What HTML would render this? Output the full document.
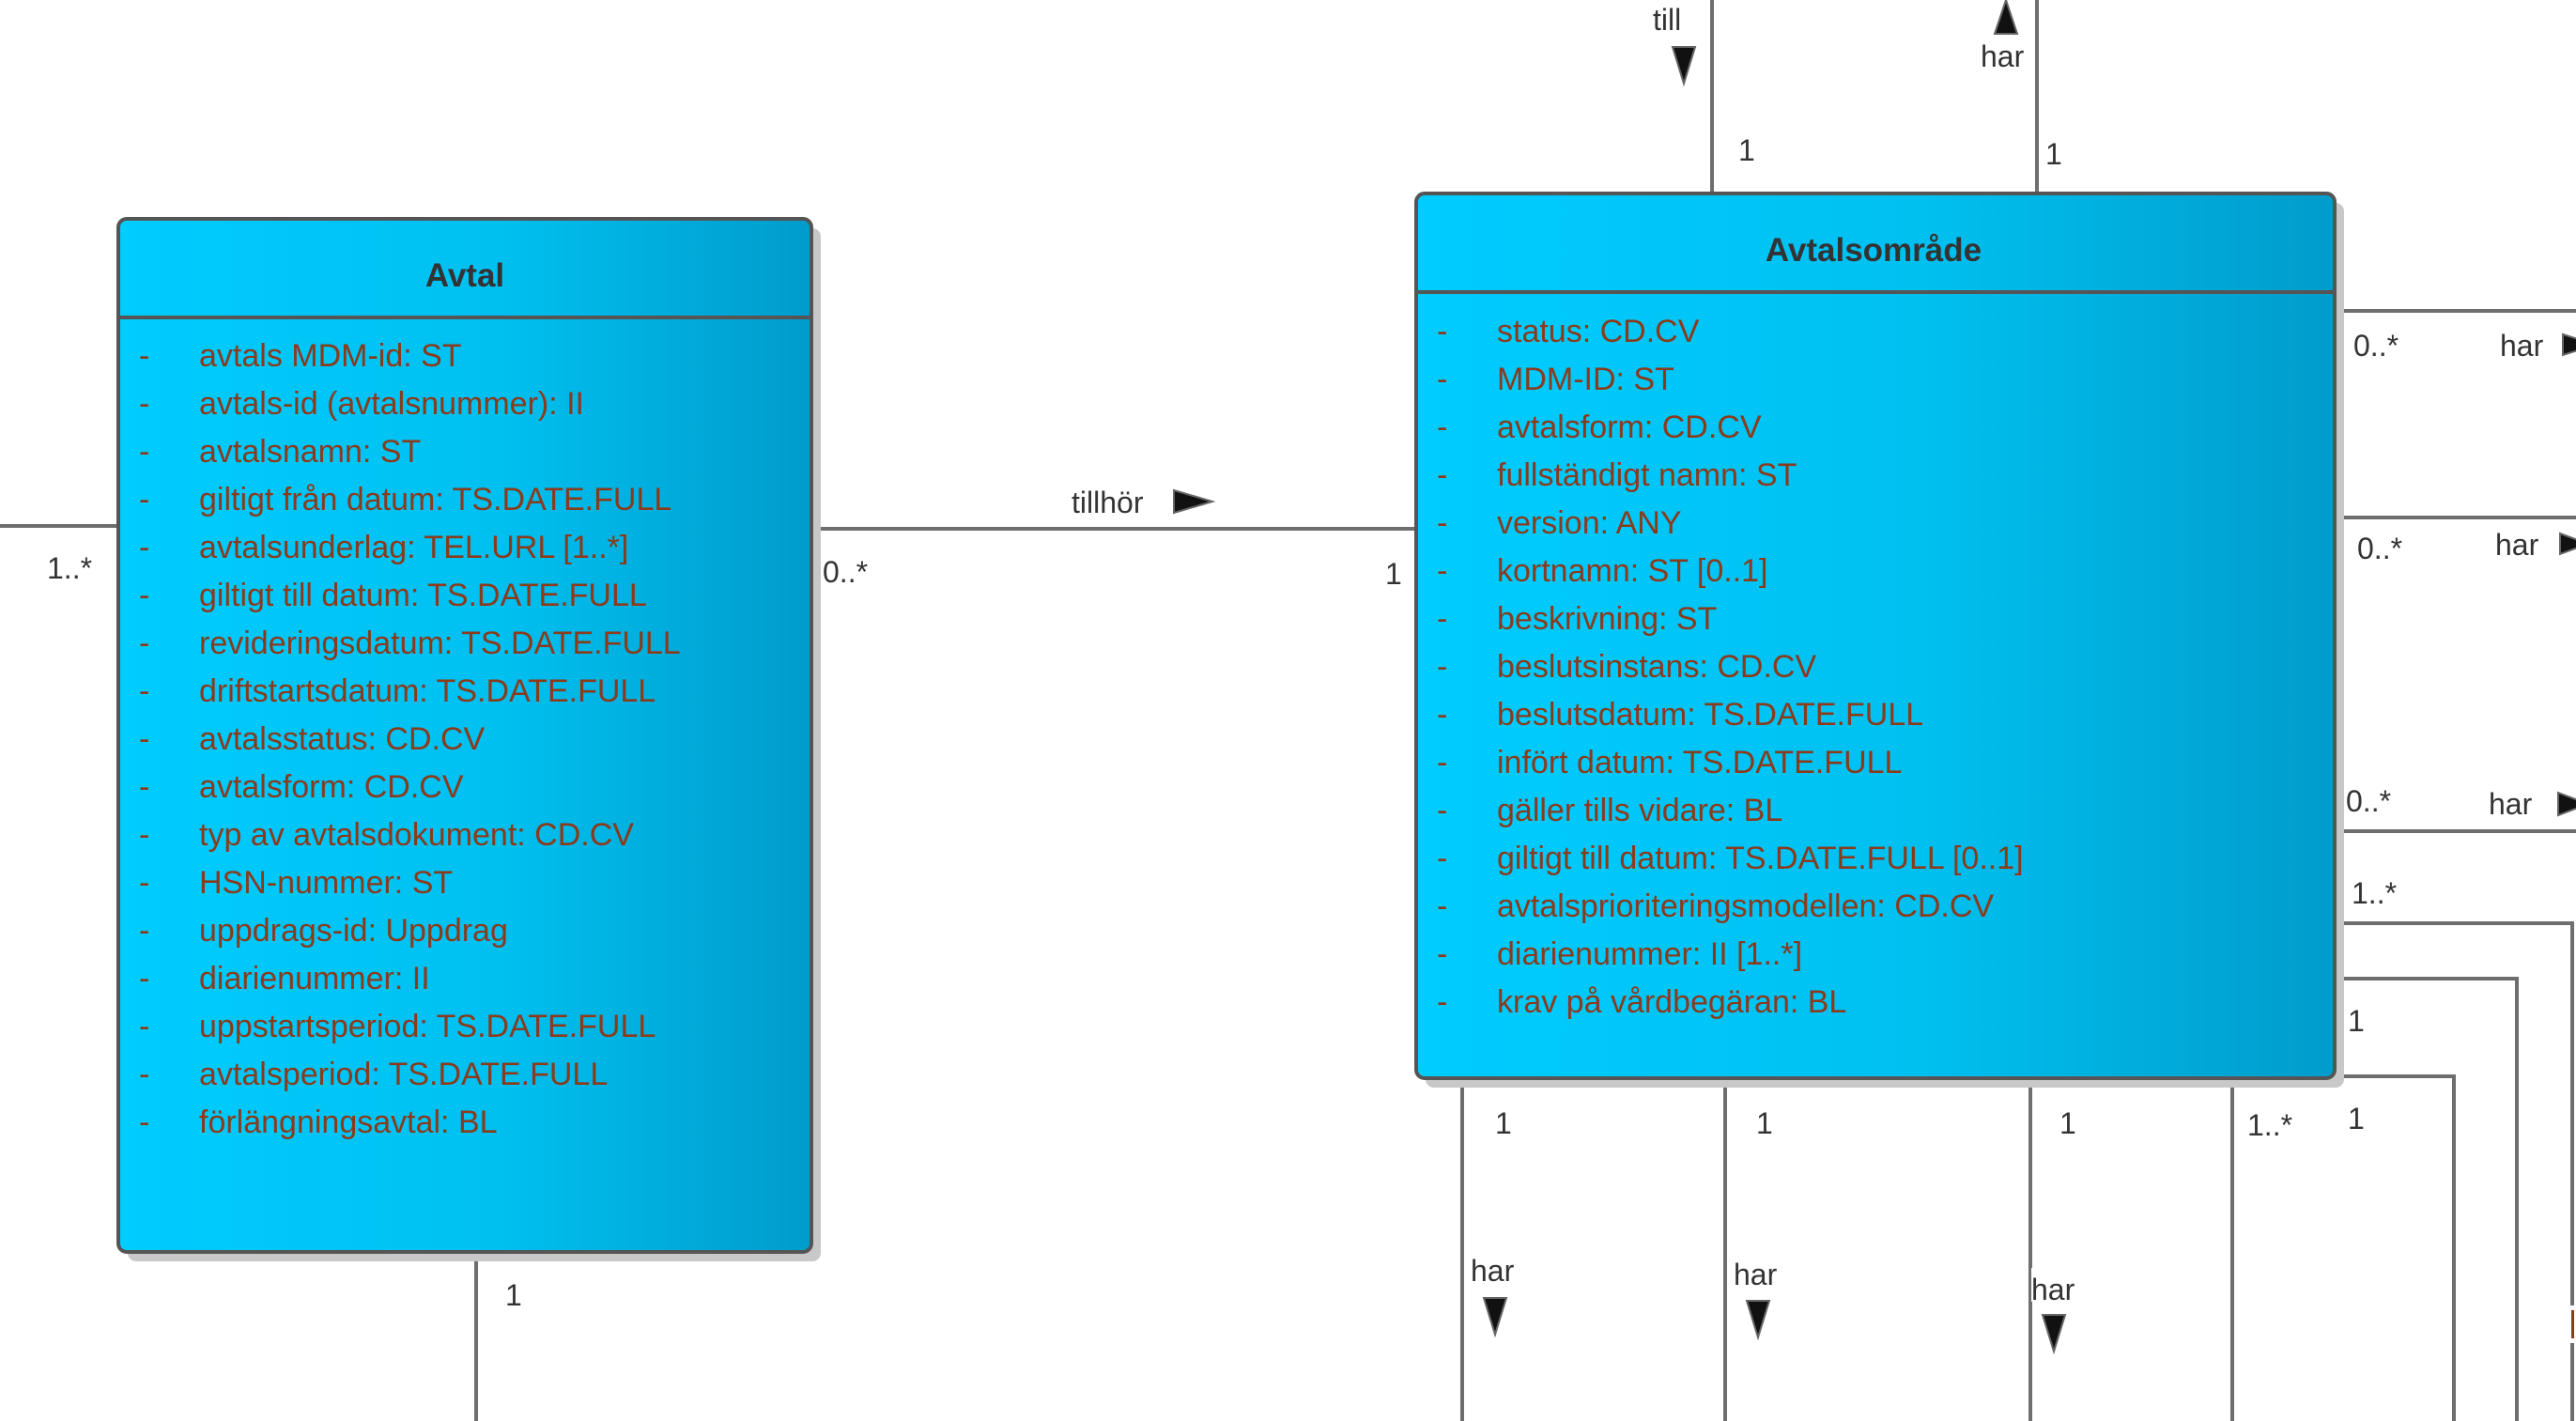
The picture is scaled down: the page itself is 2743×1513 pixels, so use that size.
<!DOCTYPE html>
<html><head><meta charset="utf-8"><style>
html,body{margin:0;padding:0;background:#fff;}
svg{display:block;}
text{font-family:"Liberation Sans",sans-serif;}
.l{font-size:32px;fill:#333;}
.a{font-size:34px;fill:#8a3b1c;}
.t{font-size:35px;font-weight:bold;fill:#333;}
</style></head><body>
<svg width="2743" height="1513" viewBox="0 0 2743 1513" xmlns="http://www.w3.org/2000/svg">
<defs>
<linearGradient id="g" x1="0" y1="0" x2="1" y2="0">
<stop offset="0" stop-color="#00ccff"/><stop offset="0.55" stop-color="#00c0f0"/><stop offset="1" stop-color="#009ccb"/>
</linearGradient>
</defs>
<g stroke="#6e6e6e" stroke-width="4" fill="none">
<line x1="0" y1="560" x2="126" y2="560"/>
<line x1="864" y1="563" x2="1508" y2="563"/>
<line x1="507" y1="1333" x2="507" y2="1513"/>
<line x1="1823" y1="0" x2="1823" y2="206"/>
<line x1="2169" y1="0" x2="2169" y2="206"/>
<line x1="2486" y1="331" x2="2743" y2="331"/>
<line x1="2486" y1="551" x2="2743" y2="551"/>
<line x1="2486" y1="885" x2="2743" y2="885"/>
<polyline points="2486,983 2739,983 2739,1513"/>
<polyline points="2486,1042 2680,1042 2680,1513"/>
<polyline points="2486,1146 2613,1146 2613,1513"/>
<line x1="1557" y1="1148" x2="1557" y2="1513"/>
<line x1="1837" y1="1148" x2="1837" y2="1513"/>
<line x1="2162" y1="1148" x2="2162" y2="1513"/>
<line x1="2377" y1="1148" x2="2377" y2="1513"/>
</g>
<!-- Avtal -->
<rect x="136" y="243" width="738" height="1100" rx="9" fill="#c8c8c8"/>
<rect x="126" y="233" width="738" height="1100" rx="9" fill="url(#g)" stroke="#555" stroke-width="4"/>
<line x1="126" y1="338" x2="864" y2="338" stroke="#555" stroke-width="4"/>
<text class="t" x="495" y="305" text-anchor="middle">Avtal</text>
<g class="a">
<text x="148" y="390">-</text><text x="212" y="390">avtals MDM-id: ST</text>
<text x="148" y="441">-</text><text x="212" y="441">avtals-id (avtalsnummer): II</text>
<text x="148" y="492">-</text><text x="212" y="492">avtalsnamn: ST</text>
<text x="148" y="543">-</text><text x="212" y="543">giltigt från datum: TS.DATE.FULL</text>
<text x="148" y="594">-</text><text x="212" y="594">avtalsunderlag: TEL.URL [1..*]</text>
<text x="148" y="645">-</text><text x="212" y="645">giltigt till datum: TS.DATE.FULL</text>
<text x="148" y="696">-</text><text x="212" y="696">revideringsdatum: TS.DATE.FULL</text>
<text x="148" y="747">-</text><text x="212" y="747">driftstartsdatum: TS.DATE.FULL</text>
<text x="148" y="798">-</text><text x="212" y="798">avtalsstatus: CD.CV</text>
<text x="148" y="849">-</text><text x="212" y="849">avtalsform: CD.CV</text>
<text x="148" y="900">-</text><text x="212" y="900">typ av avtalsdokument: CD.CV</text>
<text x="148" y="951">-</text><text x="212" y="951">HSN-nummer: ST</text>
<text x="148" y="1002">-</text><text x="212" y="1002">uppdrags-id: Uppdrag</text>
<text x="148" y="1053">-</text><text x="212" y="1053">diarienummer: II</text>
<text x="148" y="1104">-</text><text x="212" y="1104">uppstartsperiod: TS.DATE.FULL</text>
<text x="148" y="1155">-</text><text x="212" y="1155">avtalsperiod: TS.DATE.FULL</text>
<text x="148" y="1206">-</text><text x="212" y="1206">förlängningsavtal: BL</text>
</g>
<!-- Avtalsområde -->
<rect x="1518" y="216" width="978" height="942" rx="9" fill="#c8c8c8"/>
<rect x="1508" y="206" width="978" height="942" rx="9" fill="url(#g)" stroke="#555" stroke-width="4"/>
<line x1="1508" y1="311" x2="2486" y2="311" stroke="#555" stroke-width="4"/>
<text class="t" x="1995" y="278" text-anchor="middle">Avtalsområde</text>
<g class="a">
<text x="1530" y="364">-</text><text x="1594" y="364">status: CD.CV</text>
<text x="1530" y="415">-</text><text x="1594" y="415">MDM-ID: ST</text>
<text x="1530" y="466">-</text><text x="1594" y="466">avtalsform: CD.CV</text>
<text x="1530" y="517">-</text><text x="1594" y="517">fullständigt namn: ST</text>
<text x="1530" y="568">-</text><text x="1594" y="568">version: ANY</text>
<text x="1530" y="619">-</text><text x="1594" y="619">kortnamn: ST [0..1]</text>
<text x="1530" y="670">-</text><text x="1594" y="670">beskrivning: ST</text>
<text x="1530" y="721">-</text><text x="1594" y="721">beslutsinstans: CD.CV</text>
<text x="1530" y="772">-</text><text x="1594" y="772">beslutsdatum: TS.DATE.FULL</text>
<text x="1530" y="823">-</text><text x="1594" y="823">infört datum: TS.DATE.FULL</text>
<text x="1530" y="874">-</text><text x="1594" y="874">gäller tills vidare: BL</text>
<text x="1530" y="925">-</text><text x="1594" y="925">giltigt till datum: TS.DATE.FULL [0..1]</text>
<text x="1530" y="976">-</text><text x="1594" y="976">avtalsprioriteringsmodellen: CD.CV</text>
<text x="1530" y="1027">-</text><text x="1594" y="1027">diarienummer: II [1..*]</text>
<text x="1530" y="1078">-</text><text x="1594" y="1078">krav på vårdbegäran: BL</text>
</g>
<!-- labels -->
<g class="l">
<text x="50" y="616">1..*</text>
<text x="876" y="620">0..*</text>
<text x="1475" y="622">1</text>
<text x="1141" y="546">tillhör</text>
<text x="538" y="1390">1</text>
<text x="1760" y="32">till</text>
<text x="1851" y="171">1</text>
<text x="2109" y="71">har</text>
<text x="2178" y="175">1</text>
<text x="2506" y="379">0..*</text>
<text x="2662" y="379">har</text>
<text x="2510" y="595">0..*</text>
<text x="2657" y="591">har</text>
<text x="2498" y="864">0..*</text>
<text x="2650" y="867">har</text>
<text x="2504" y="962">1..*</text>
<text x="2500" y="1098">1</text>
<text x="2500" y="1202">1</text>
<text x="1592" y="1207">1</text>
<text x="1870" y="1207">1</text>
<text x="2193" y="1207">1</text>
<text x="2393" y="1209">1..*</text>
<text x="1566" y="1364">har</text>
<text x="1846" y="1368">har</text>
<rect x="2163" y="1350" width="54" height="36" fill="#fff"/>
<text x="2163" y="1384">har</text>
</g>
<rect x="2735" y="1390" width="8" height="40" fill="#fff"/>
<rect x="2738" y="1395" width="3" height="30" fill="#8a3b1c"/>
<!-- arrowheads -->
<g fill="#111" stroke="#666" stroke-width="2">
<polygon points="1250,522 1291,534 1250,546"/>
<polygon points="1781,50 1805,50 1793,89"/>
<polygon points="2124,36 2148,36 2136,0"/>
<polygon points="2729,356 2745,361 2745,373 2729,378"/>
<polygon points="2726,568 2745,575 2745,583 2726,590"/>
<polygon points="2724,844 2745,852 2745,860 2724,868"/>
<polygon points="1580,1382 1604,1382 1592,1421"/>
<polygon points="1860,1385 1884,1385 1872,1424"/>
<polygon points="2175,1400 2199,1400 2187,1439"/>
</g>
</svg>
</body></html>
